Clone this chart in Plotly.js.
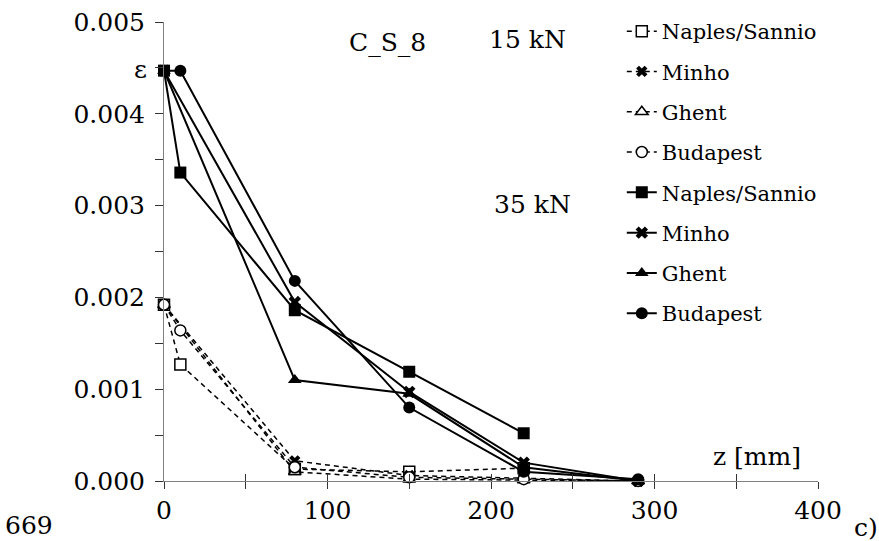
<!DOCTYPE html>
<html>
<head>
<meta charset="utf-8">
<script src="https://cdn.plot.ly/plotly-3.0.1.min.js"></script>
<style>
  html, body { margin: 0; padding: 0; background: #fff; }
  #chart { width: 879px; height: 541px; }
</style>
</head>
<body>
<div id="chart"></div>
<script>
// Strain ε along the bar (z in mm), specimen C_S_8, two load levels
const labsNames = ['Naples/Sannio', 'Minho', 'Ghent', 'Budapest'];

// 15 kN
const naples15Z   = [0, 10, 80, 150, 220];
const naples15E   = [0.00192, 0.00127, 0.00013, 0.00010, 0.00014];
const minho15Z    = [0, 80, 150, 220, 290];
const minho15E    = [0.00192, 0.00022, 0.00006, 0.00003, 0.0];
const ghent15Z    = [0, 80, 150, 220, 290];
const ghent15E    = [0.00192, 0.00010, 0.00002, 0.00001, 0.0];
const budapest15Z = [0, 10, 80, 150, 220, 290];
const budapest15E = [0.00192, 0.00164, 0.00015, 0.00004, 0.00002, 0.0];

// 35 kN
const naples35Z   = [0, 10, 80, 150, 220];
const naples35E   = [0.00447, 0.00336, 0.00186, 0.00119, 0.00052];
const minho35Z    = [0, 80, 150, 220, 290];
const minho35E    = [0.00447, 0.00195, 0.00097, 0.00020, 0.0];
const ghent35Z    = [0, 80, 150, 220, 290];
const ghent35E    = [0.00447, 0.00110, 0.00095, 0.00015, 0.0];
const budapest35Z = [0, 10, 80, 150, 220, 290];
const budapest35E = [0.00447, 0.00447, 0.00218, 0.00080, 0.00010, 0.00002];

const xTickVals = [0, 100, 200, 300, 400];
const yTickVals = [0, 0.001, 0.002, 0.003, 0.004, 0.005];

const SERIF = 'DejaVu Serif';

function dashed(name, z, e, symbol, open, idx) {
  return {
    type: 'scatter', mode: 'lines+markers', name: name, x: z, y: e,
    cliponaxis: false, legendgroup: 'g' + idx,
    line: { color: '#000', width: 1.5, dash: '5px,4px' },
    marker: {
      symbol: symbol, size: symbol === 'x' ? 10 : 11,
      color: open ? '#fff' : '#000',
      line: { color: '#000', width: open ? 1.5 : 0 }
    }
  };
}
function solid(name, z, e, symbol, idx) {
  return {
    type: 'scatter', mode: 'lines+markers', name: name, x: z, y: e,
    cliponaxis: false, legendgroup: 'g' + idx,
    line: { color: '#000', width: 2 },
    marker: { symbol: symbol, size: symbol === 'x' ? 11 : 12, color: '#000', line: { width: 0 } }
  };
}

const traces = [
  dashed(labsNames[0], naples15Z, naples15E, 'square', true, 0),
  dashed(labsNames[1], minho15Z, minho15E, 'x', false, 1),
  dashed(labsNames[2], ghent15Z, ghent15E, 'triangle-up', true, 2),
  dashed(labsNames[3], budapest15Z, budapest15E, 'circle', true, 3),
  solid(labsNames[0], naples35Z, naples35E, 'square', 4),
  solid(labsNames[1], minho35Z, minho35E, 'x', 5),
  solid(labsNames[2], ghent35Z, ghent35E, 'triangle-up', 6),
  solid(labsNames[3], budapest35Z, budapest35E, 'circle', 7)
];

const textFont = { family: SERIF, size: 25, color: '#000' };

const layout = {
  width: 879, height: 541,
  margin: { l: 164, r: 61, t: 22, b: 60, autoexpand: false },
  paper_bgcolor: '#fff', plot_bgcolor: '#fff',
  font: { family: SERIF },
  showlegend: true,
  legend: {
    x: 0.70, xanchor: 'left', y: 1.024, yanchor: 'top',
    font: { family: SERIF, size: 21, color: '#000' },
    tracegroupgap: 10, bgcolor: 'rgba(0,0,0,0)', traceorder: 'grouped',
    maxheight: 500
  },
  xaxis: {
    range: [0, 400], tickvals: xTickVals, ticktext: xTickVals.map(String),
    showgrid: false, zeroline: false, showline: true, linecolor: '#808080', linewidth: 1,
    ticks: 'outside', ticklen: 7, tickcolor: '#333', tickwidth: 1,
    minor: { dtick: 50, tick0: 0, ticks: 'outside', ticklen: 7, tickcolor: '#333', showgrid: false },
    tickfont: { family: SERIF, size: 25, color: '#000' }
  },
  xaxis2: {
    overlaying: 'x', anchor: 'y', side: 'bottom', range: [0, 400],
    tickvals: xTickVals, showticklabels: false,
    showgrid: false, zeroline: false, showline: false,
    ticks: 'inside', ticklen: 7, tickcolor: '#333', tickwidth: 1,
    minor: { dtick: 50, tick0: 0, ticks: 'inside', ticklen: 7, tickcolor: '#333', showgrid: false }
  },
  yaxis: {
    range: [0, 0.005], tickvals: yTickVals, tickformat: '.3f',
    showgrid: false, zeroline: false, showline: true, linecolor: '#808080', linewidth: 1,
    ticks: 'outside', ticklen: 8, tickcolor: '#333', tickwidth: 1, ticklabelstandoff: 5,
    minor: { dtick: 0.0005, tick0: 0, ticks: 'outside', ticklen: 8, tickcolor: '#333', showgrid: false },
    tickfont: { family: SERIF, size: 25, color: '#000' }
  },
  annotations: [
    { text: 'C_S_8', xref: 'paper', yref: 'paper', x: (387 - 164) / 654, y: (481 - 43) / 459, showarrow: false, font: textFont, xanchor: 'center', yanchor: 'middle' },
    { text: '15 kN', xref: 'paper', yref: 'paper', x: (527 - 164) / 654, y: (481 - 40) / 459, showarrow: false, font: textFont, xanchor: 'center', yanchor: 'middle' },
    { text: '35 kN', xref: 'paper', yref: 'paper', x: (532 - 164) / 654, y: (481 - 204) / 459, showarrow: false, font: textFont, xanchor: 'center', yanchor: 'middle' },
    { text: 'ε', xref: 'paper', yref: 'paper', x: (140 - 164) / 654, y: (481 - 70) / 459, showarrow: false, font: textFont, xanchor: 'center', yanchor: 'middle' },
    { text: 'z [mm]', xref: 'paper', yref: 'paper', x: (757 - 164) / 654, y: (481 - 456) / 459, showarrow: false, font: textFont, xanchor: 'center', yanchor: 'middle' },
    { text: '669', xref: 'paper', yref: 'paper', x: (29 - 164) / 654, y: (481 - 525) / 459, showarrow: false, font: textFont, xanchor: 'center', yanchor: 'middle' },
    { text: 'c)', xref: 'paper', yref: 'paper', x: (866 - 164) / 654, y: (481 - 527) / 459, showarrow: false, font: textFont, xanchor: 'center', yanchor: 'middle' }
  ]
};

// invisible point on the overlay axis so its crossing ticks get drawn
traces.push({ type: 'scatter', x: [0], y: [0], xaxis: 'x2', yaxis: 'y', mode: 'markers',
  marker: { opacity: 0 }, showlegend: false, hoverinfo: 'skip' });

Plotly.newPlot('chart', traces, layout, { displayModeBar: false, staticPlot: true });
</script>
</body>
</html>
